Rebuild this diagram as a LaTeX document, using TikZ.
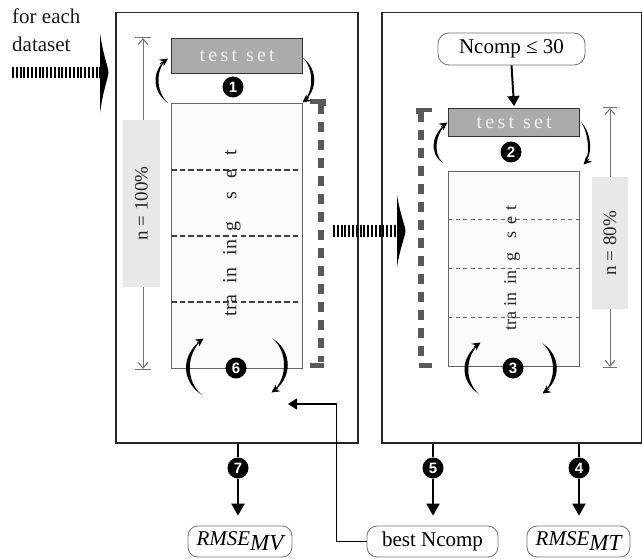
\documentclass[tikz,border=0pt]{standalone}
\usepackage{fontspec}
\setmainfont{Liberation Serif}
\newfontfamily\numfont{Liberation Sans}
\usetikzlibrary{arrows.meta,calc}
\newcommand\lsp{\kern3.2pt}
\begin{document}
\begin{tikzpicture}[x=1pt,y=-1pt,
 outerbox/.style={draw=black!85,line width=1.5pt,inner sep=0,anchor=north west},
 testbox/.style={draw=black!80,fill=black!33,line width=1.4pt,inner sep=0,text=white!94!black,font=\fontsize{20}{20}\selectfont,anchor=north west},
 trainbox/.style={draw=black!60,fill=black!2,line width=1pt,inner sep=0,anchor=north west},
 num/.style={circle,fill=black,text=white,inner sep=0,minimum size=21pt,font=\numfont\bfseries\fontsize{15}{15}\selectfont},
 pill/.style={draw=black!55,line width=0.8pt,rounded corners=11pt,fill=white,inner sep=0,font=\fontsize{21}{21}\selectfont},
 dimline/.style={draw=black!55,line width=1pt},
 dimtips/.style={{Straight Barb[length=6pt,width=10pt]}-{Straight Barb[length=6pt,width=10pt]}},
 dimlabel/.style={fill=black!9,inner sep=0,rotate=90,font=\fontsize{19}{19}\selectfont,text=black!85},
 bracketline/.style={draw=black!65,line width=6pt,dash pattern=on 10pt off 8pt},
 bracketend/.style={draw=black!65,line width=4.5pt},
 stripes/.style={draw=black,line width=11.5pt,dash pattern=on 2pt off 1.8pt},
 outarrow/.style={line width=2pt,-{Triangle[length=12pt,width=13pt]}},
 cresc/.style={fill=black},
 ctip/.style={line width=0.8pt,-{Stealth[length=8pt,width=8pt]}},
 trainlabel/.style={rotate=90,inner sep=0,text=black!85},
 plain/.style={inner sep=0,font=\fontsize{21}{21}\selectfont,text=black!90},
]
\useasboundingbox (0,0) rectangle (642,559);

% outer boxes
\node[outerbox,minimum width=242pt,minimum height=430pt] (L) at (115,12) {};
\node[outerbox,minimum width=260pt,minimum height=430pt] (R) at (381,12) {};

% caption
\node[plain,anchor=base west] (cap1) at (12,24) {for each};
\node[plain,anchor=base west] (cap2) at (12,52) {dataset};

% left box content
\node[testbox,minimum width=131pt,minimum height=35pt] (TL) at (171,38) {t\lsp e\lsp s\lsp t\kern9pt s\lsp e\lsp t};
\node[trainbox,minimum width=131pt,minimum height=265pt] (ML) at (171,103) {};
\draw[draw=black!75,line width=1.2pt,dash pattern=on 5.5pt off 3.2pt]
  (171,170) -- (302,170) (171,236) -- (302,236) (171,302) -- (302,302);
\node[trainlabel,font=\fontsize{20}{20}\selectfont] (tlL) at (232,233)
  {tra\kern12pt in\kern12pt in\kern8pt g\kern22pt s\kern14pt e\kern14pt t};

% left dimension
\coordinate (dimL) at (143,200);
\draw[dimline,dimtips] (dimL |- TL.north) -- (dimL |- ML.south);
\draw[dimline] ($(dimL |- TL.north)+(-8,0)$) -- ++(16,0);
\draw[dimline] ($(dimL |- ML.south)+(-8,0)$) -- ++(16,0);
\node[dimlabel,minimum width=167pt,minimum height=37pt] (nL) at (141.5,203.5) {n = 100\%};

% left bracket
\draw[bracketline] (320.5,104) -- (320.5,362);
\draw[bracketend] (310,101.5) -- (323.5,101.5) -- (323.5,106);
\draw[bracketend] (310,365.5) -- (323.5,365.5);

% right box content
\node[pill,minimum width=147pt,minimum height=32pt] (NC) at (511.5,49) {Ncomp ≤ 30};
\node[testbox,minimum width=131pt,minimum height=28pt] (TR) at (448,108) {t\lsp e\lsp s\lsp t\kern9pt s\lsp e\lsp t};
\draw[line width=2pt,-{Triangle[length=10pt,width=12pt]},shorten >=2pt] (NC.south) -- (TR.north);
\node[trainbox,minimum width=131pt,minimum height=195pt] (MR) at (448,171) {};
\draw[draw=black!60,line width=0.8pt,dash pattern=on 4pt off 3.5pt]
  (448,219) -- (579,219) (448,268) -- (579,268) (448,317) -- (579,317);
\node[trainlabel,font=\fontsize{18}{18}\selectfont] (tlR) at (512,268)
  {tra\kern6pt in\kern8pt in\kern8pt g\kern14pt s\kern8pt e\kern6pt t};

% right dimension
\coordinate (dimR) at (610,200);
\draw[dimline,dimtips] (dimR |- TR.north) -- (dimR |- MR.south);
\draw[dimline] ($(dimR |- TR.north)+(-7,0)$) -- ++(14,0);
\draw[dimline] ($(dimR |- MR.south)+(-7,0)$) -- ++(14,0);
\node[dimlabel,minimum width=132pt,minimum height=36pt] (nR) at (610,243) {n = 80\%};

% right bracket
\draw[bracketline] (421,112) -- (421,358);
\draw[bracketend] (432,110) -- (418.7,110) -- (418.7,114);
\draw[bracketend] (418.7,365.5) -- (432,365.5);

% crescent arrows, step 1
\fill[cresc] (168,103) .. controls (152,92) and (151,70) .. (167,59) .. controls (155,70) and (156,92) .. (168,103);
\draw[ctip] (160,64) -- (168,58.5);
\fill[cresc] (303,58) .. controls (318,69) and (318,91) .. (303,102) .. controls (314,91) and (314,69) .. (303,58);
\draw[ctip] (309,97.5) -- (302.5,102.5);
% step 2
\fill[cresc] (443,163) .. controls (428,153) and (432,133) .. (447,123) .. controls (436,133) and (432,153) .. (443,163);
\draw[ctip] (441,127) -- (447.5,122.5);
\fill[cresc] (581,122) .. controls (591,132) and (594,154) .. (584,164) .. controls (591,154) and (588,132) .. (581,122);
\draw[ctip] (589,159) -- (583.5,164.5);
% step 6
\fill[cresc] (202,395) .. controls (180,381) and (181,353) .. (203,339) .. controls (186,353) and (185,381) .. (202,395);
\draw[ctip] (197,343) -- (203.5,338.5);
\fill[cresc] (272,338) .. controls (293,351) and (293,379) .. (272,392) .. controls (288,379) and (288,351) .. (272,338);
\draw[ctip] (278,388) -- (271.5,392.5);
% step 3
\fill[cresc] (479,394) .. controls (459,381) and (460,356) .. (480,343) .. controls (465,356) and (464,381) .. (479,394);
\draw[ctip] (474,347) -- (480.5,342.5);
\fill[cresc] (542,343) .. controls (561,355) and (562,380) .. (543,393) .. controls (557,380) and (556,355) .. (542,343);
\draw[ctip] (549,389) -- (542.5,393.5);

% numbers
\node[num] (n1) at (233,87) {1};
\node[num] (n2) at (511,152) {2};
\node[num] (n6) at (236,368) {6};
\node[num] (n3) at (513,368) {3};

% striped arrows
\draw[stripes] (12,72.5) -- (100,72.5);
\fill (100,33) .. controls (103,55) and (108,66) .. (108.5,72.5) .. controls (108,79) and (103,90) .. (100,113) -- cycle;
\draw[stripes] (333,231) -- (397,231);
\fill (397,195) .. controls (400,214) and (405,225) .. (405.5,231) .. controls (405,237) and (400,248) .. (397,267) -- cycle;

% outputs
\node[pill,rounded corners=10pt,minimum width=104pt,minimum height=31pt] (MV) at (240,541.5)
  {\itshape RMSE\raisebox{-5pt}{\fontsize{23}{23}\selectfont MV}};
\node[pill,rounded corners=10pt,minimum width=131pt,minimum height=31pt] (BN) at (432.5,541.5) {best Ncomp};
\node[pill,rounded corners=10pt,minimum width=103pt,minimum height=31pt] (MT) at (578.5,541.5)
  {\itshape RMSE\raisebox{-5pt}{\fontsize{23}{23}\selectfont MT}};

\node[num] (n7) at (238,468) {7};
\node[num] (n5) at (433,468) {5};
\node[num] (n4) at (579,468) {4};
\draw[line width=2pt] (n7 |- L.south) -- (n7);
\draw[outarrow,shorten >=10pt] (n7) -- (n7 |- MV.north);
\draw[line width=2pt] (n5 |- R.south) -- (n5);
\draw[outarrow,shorten >=10pt] (n5) -- (n5 |- BN.north);
\draw[line width=2pt] (n4 |- R.south) -- (n4);
\draw[outarrow,shorten >=10pt] (n4) -- (n4 |- MT.north);

\coordinate (back) at (288,404);
\draw[line width=1.5pt,-{Triangle[length=9pt,width=11pt]}] (BN.west) -- ++(-30,0) |- (back);
\end{tikzpicture}
\end{document}
